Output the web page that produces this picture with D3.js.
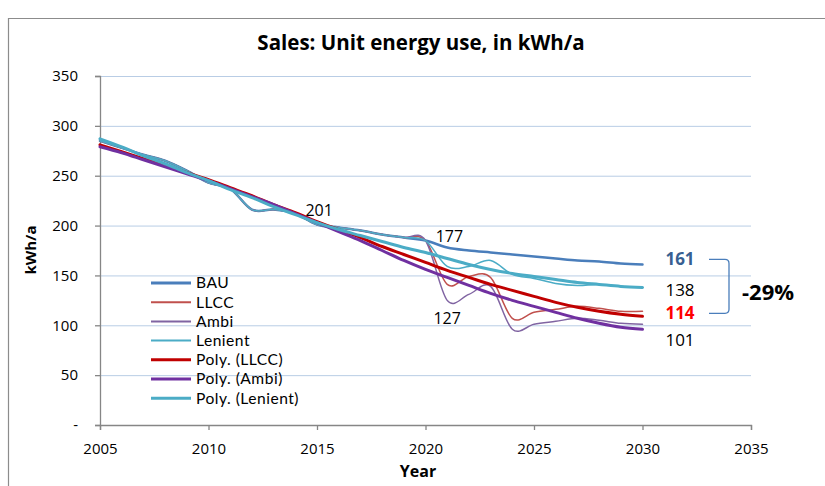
<!DOCTYPE html>
<html>
<head>
<meta charset="utf-8">
<script src="https://cdn.jsdelivr.net/npm/d3@7"></script>
<style>
  body { margin: 0; background: #fff; }
  svg text { font-family: "Open Sans", Lato, sans-serif; }
</style>
</head>
<body>
<div id="svgDiv"></div>
<script>
//chart data
var allYears = d3.range(2005, 2031);

//common historic values 2005-2020
var histValues = [285, 278, 271, 265, 255, 243, 237, 216, 216, 212, 201, 198, 195, 191, 188, 185];

//scenario values 2021-2030
var bauFuture = [178, 175, 173, 171, 169, 167, 165, 164, 162, 161];
var llccFuture = [141, 149, 148, 107, 113, 116, 119, 117, 114, 114];
var ambiFuture = [125, 131, 139, 96, 101, 104, 107, 105, 102, 101];
var lenientFuture = [159, 159, 165, 151, 147, 142, 140, 141, 139, 138];

//trend lines 2005-2030
var polyLlcc = [281, 274, 267, 260, 253, 246, 238, 230, 221, 213, 204, 196, 188, 179, 171, 163, 155, 148, 141, 135, 129, 123, 118, 114, 111, 109];
var polyAmbi = [279, 273, 266, 259, 252, 245, 237, 229, 221, 212, 203, 194, 185, 175, 165, 156, 148, 140, 132, 125, 119, 113, 107, 102, 98, 96];
var polyLenient = [287, 279, 270, 262, 253, 245, 236, 228, 219, 211, 203, 196, 190, 184, 178, 173, 167, 161, 156, 152, 149, 146, 143, 141, 139, 138];

var xTicks = [2005, 2010, 2015, 2020, 2025, 2030, 2035];
var yTicks = [0, 50, 100, 150, 200, 250, 300, 350];

var seriesNames = ["BAU", "LLCC", "Ambi", "Lenient", "Poly. (LLCC)", "Poly. (Ambi)", "Poly. (Lenient)"];
var seriesColors = ["#4a7ebb", "#c0504d", "#8064a2", "#4bacc6", "#c00000", "#7030a0", "#4bacc6"];
var seriesWidths = [2.5, 1.5, 1.5, 1.5, 3, 3, 3];

//value labels: [year, value, text, color, bold]
var pointLabels = [
    [2015.1, 215, "201", "#000", false],
    [2021.1, 189, "177", "#000", false],
    [2021.0, 107, "127", "#000", false]
];
var endLabels = [
    ["161", "#376092", true],
    ["138", "#000", false],
    ["114", "#ff0000", true],
    ["101", "#000", false]
];
var endLabelValues = [166, 135, 112, 85];

var svgWidth = 825, svgHeight = 486;
var svg = d3.select("#svgDiv").append("svg")
    .attr("width", svgWidth)
    .attr("height", svgHeight);

//outer chart frame
svg.append("path")
    .attr("d", "M8.5,486 L8.5,18.5 L825,18.5")
    .attr("fill", "none")
    .attr("stroke", "#8c8c8c")
    .attr("stroke-width", 1.2);

var x = d3.scaleLinear().domain([2005, 2035]).range([100, 751]);
var y = d3.scaleLinear().domain([0, 350]).range([425, 76]);

//gridlines
svg.append("g").selectAll("line")
    .data(yTicks.filter(function(d){ return d > 0; }))
    .enter().append("line")
    .attr("x1", x(2005)).attr("x2", x(2035))
    .attr("y1", function(d){ return y(d) + 0.5; })
    .attr("y2", function(d){ return y(d) + 0.5; })
    .attr("stroke", "#b9cde5")
    .attr("stroke-width", 1);

//axes
var xAxis = svg.append("g")
    .attr("transform", "translate(0," + y(0) + ")")
    .call(d3.axisBottom(x).tickValues(xTicks).tickFormat(d3.format("d")).tickSize(5).tickPadding(13));
var yAxis = svg.append("g")
    .attr("transform", "translate(" + x(2005) + ",0)")
    .call(d3.axisLeft(y).tickValues(yTicks).tickFormat(function(d){ return d === 0 ? "-" : d; }).tickSize(5).tickPadding(17));
[xAxis, yAxis].forEach(function(a){
    a.selectAll("path, line").attr("stroke", "#868686").attr("stroke-width", 1.3);
    a.selectAll("text").style("font-size", "15px").style("font-family", "'Open Sans', Lato, sans-serif").style("fill", "#000");
});

//build the series
var seriesData = [
    histValues.concat(bauFuture),
    histValues.concat(llccFuture),
    histValues.concat(ambiFuture),
    histValues.concat(lenientFuture),
    polyLlcc,
    polyAmbi,
    polyLenient
];

var line = d3.line()
    .x(function(d){ return x(d.year); })
    .y(function(d){ return y(d.value); })
    .curve(d3.curveCardinal.tension(0));

var plot = svg.append("g");
seriesData.forEach(function(vals, i){
    var pts = vals.map(function(v, j){ return { year: allYears[j], value: v }; });
    plot.append("path")
        .datum(pts)
        .attr("d", line)
        .attr("fill", "none")
        .attr("stroke", seriesColors[i])
        .attr("stroke-width", seriesWidths[i])
        .attr("stroke-linejoin", "round")
        .attr("stroke-linecap", "round");
});

//legend (Lato keeps the rows from touching)
var legend = svg.append("g");
seriesNames.forEach(function(name, i){
    var ly = 283 + i * 19.2;
    legend.append("line")
        .attr("x1", 151).attr("x2", 191)
        .attr("y1", ly).attr("y2", ly)
        .attr("stroke", seriesColors[i])
        .attr("stroke-width", seriesWidths[i] < 2 ? 2 : 3);
    legend.append("text")
        .attr("x", 196).attr("y", ly)
        .attr("dy", "0.35em")
        .style("font-family", "Lato, 'Open Sans', sans-serif")
        .style("font-size", "15.6px")
        .style("letter-spacing", "0.5px")
        .style("fill", "#000")
        .text(name);
});

//point labels
pointLabels.forEach(function(l){
    svg.append("text")
        .attr("x", x(l[0])).attr("y", y(l[1]))
        .attr("text-anchor", "middle")
        .attr("dy", "0.35em")
        .style("font-size", "16px")
        .style("font-weight", l[4] ? "bold" : "normal")
        .style("fill", l[3])
        .text(l[2]);
});
endLabels.forEach(function(l, i){
    svg.append("text")
        .attr("x", 680).attr("y", y(endLabelValues[i]))
        .attr("text-anchor", "middle")
        .attr("dy", "0.35em")
        .style("font-size", "17px")
        .style("font-weight", l[2] ? "bold" : "normal")
        .style("fill", l[1])
        .text(l[0]);
});

//bracket and percentage
svg.append("path")
    .attr("d", "M709," + y(166) + " L725," + y(166) + " Q729," + y(166) + " 729," + (y(166) + 4) +
        " L729," + (y(112) - 4) + " Q729," + y(112) + " 725," + y(112) + " L709," + y(112))
    .attr("fill", "none")
    .attr("stroke", "#4a7ebb")
    .attr("stroke-width", 1.3);
svg.append("text")
    .attr("x", 768).attr("y", 292)
    .attr("text-anchor", "middle")
    .attr("dy", "0.35em")
    .style("font-size", "22px")
    .style("font-weight", "bold")
    .style("fill", "#000")
    .text("-29%");

//titles
svg.append("text")
    .attr("x", 421).attr("y", 43)
    .attr("text-anchor", "middle")
    .attr("dy", "0.35em")
    .style("font-size", "20.5px")
    .style("font-weight", "bold")
    .style("fill", "#000")
    .text("Sales: Unit energy use, in kWh/a");
svg.append("text")
    .attr("x", 418).attr("y", 471)
    .attr("text-anchor", "middle")
    .attr("dy", "0.35em")
    .style("font-size", "16px")
    .style("font-weight", "bold")
    .style("fill", "#000")
    .text("Year");
svg.append("text")
    .attr("transform", "translate(31,250) rotate(-90)")
    .attr("text-anchor", "middle")
    .attr("dy", "0.35em")
    .style("font-size", "15px")
    .style("font-weight", "bold")
    .style("fill", "#000")
    .text("kWh/a");
</script>
</body>
</html>
